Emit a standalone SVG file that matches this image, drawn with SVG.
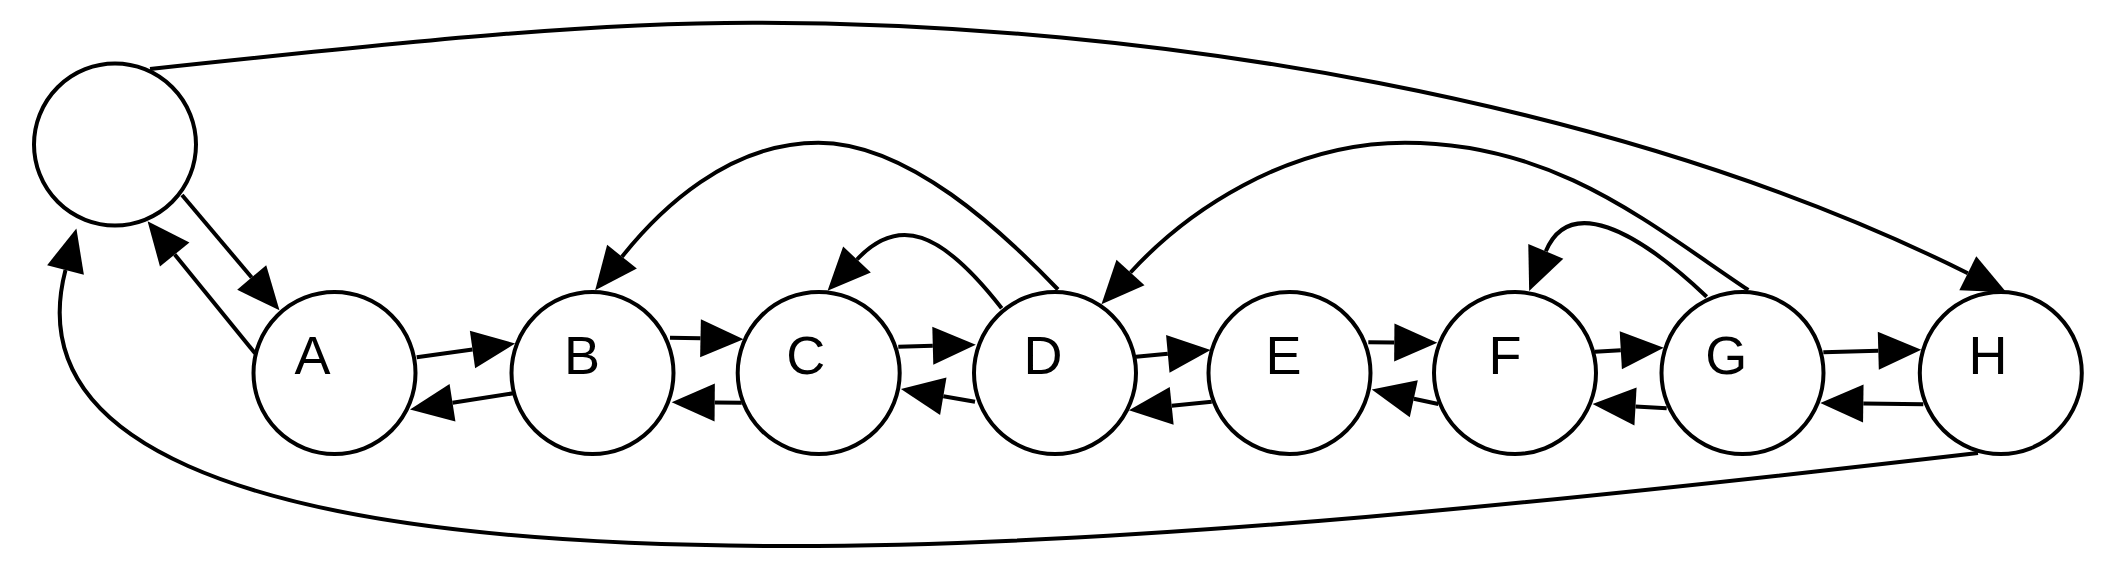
<svg xmlns="http://www.w3.org/2000/svg" width="2110" height="576" viewBox="0 0 2110 576">
<defs>
<style>
.node ellipse{fill:#fff;stroke:#000;stroke-width:4}
.node text{font-family:"Liberation Sans",Arial,sans-serif;font-size:54px;fill:#000;text-anchor:middle}
.edge{fill:none;stroke:#000;stroke-width:4;marker-end:url(#ah)}
</style>
<marker id="ah" markerUnits="userSpaceOnUse" markerWidth="50" markerHeight="50" viewBox="0 -25 50 50" refX="0" refY="0" orient="auto" overflow="visible">
<path d="M0,-19 L43,0 L0,19 Z" fill="#000"/>
</marker>
</defs>
<rect width="2110" height="576" fill="#fff"/>
<g id="connectors">
<path class="edge" d="M150,69 C450,36.9 600,22.7 752.5,22.7 C1150,22.7 1620,100 1967.8,273.2"/>
<path class="edge" d="M1978,453 C1578,499.4 1141,546 791,546 C191,546 25,424.7 65.5,270"/>
<path class="edge" d="M182,195 L251.7,277.5"/>
<path class="edge" d="M255,353.3 L174.7,254.5"/>
<path class="edge" d="M416.7,357.3 L472.5,349.5"/>
<path class="edge" d="M513.3,393.3 L452.5,402.8"/>
<path class="edge" d="M670,337.7 L700.5,338.3"/>
<path class="edge" d="M741.7,402.7 L714.7,402.5"/>
<path class="edge" d="M898.3,346.7 L932.8,345.8"/>
<path class="edge" d="M975,401.7 L943.3,396.3"/>
<path class="edge" d="M1136,356.7 L1167.8,353.8"/>
<path class="edge" d="M1211.7,401.7 L1171.7,405.8"/>
<path class="edge" d="M1368.3,342.3 L1394.3,342.5"/>
<path class="edge" d="M1438.3,404 L1413.8,398.7"/>
<path class="edge" d="M1595,351.7 L1620.8,350.2"/>
<path class="edge" d="M1666.7,408.3 L1635.5,406.5"/>
<path class="edge" d="M1823.3,352.3 L1878.3,350.8"/>
<path class="edge" d="M1923.3,404.3 L1863.3,403.5"/>
<path class="edge" d="M1058,289.5 C1002.8,231.9 908.3,142.7 818.3,142.7 C728.3,142.7 659.4,209.8 622,256.7"/>
<path class="edge" d="M1001.7,308.3 C940.3,229.4 898.1,215.8 857,259.5"/>
<path class="edge" d="M1748.3,290 C1648.5,223.4 1555,142.7 1405,142.7 C1285,142.7 1184.5,213.5 1130.5,272.5"/>
<path class="edge" d="M1706.7,296.7 C1634,228 1569,196 1545.8,251.3"/>
</g>
<g id="node0" class="node"><ellipse cx="115" cy="144.5" rx="81" ry="81"/></g>
<g id="nodeA" class="node"><ellipse cx="334.5" cy="373" rx="81" ry="81"/><text x="312.5" y="374">A</text></g>
<g id="nodeB" class="node"><ellipse cx="592.5" cy="373" rx="81" ry="81"/><text x="582" y="374">B</text></g>
<g id="nodeC" class="node"><ellipse cx="818.7" cy="373" rx="81" ry="81"/><text x="805.7" y="374">C</text></g>
<g id="nodeD" class="node"><ellipse cx="1055" cy="373" rx="81" ry="81"/><text x="1043" y="374">D</text></g>
<g id="nodeE" class="node"><ellipse cx="1289.5" cy="373" rx="81" ry="81"/><text x="1283.5" y="374">E</text></g>
<g id="nodeF" class="node"><ellipse cx="1515" cy="373" rx="81" ry="81"/><text x="1505" y="374">F</text></g>
<g id="nodeG" class="node"><ellipse cx="1742.5" cy="373" rx="81" ry="81"/><text x="1726.3" y="374">G</text></g>
<g id="nodeH" class="node"><ellipse cx="2000.8" cy="373" rx="81" ry="81"/><text x="1988" y="374">H</text></g>
</svg>
